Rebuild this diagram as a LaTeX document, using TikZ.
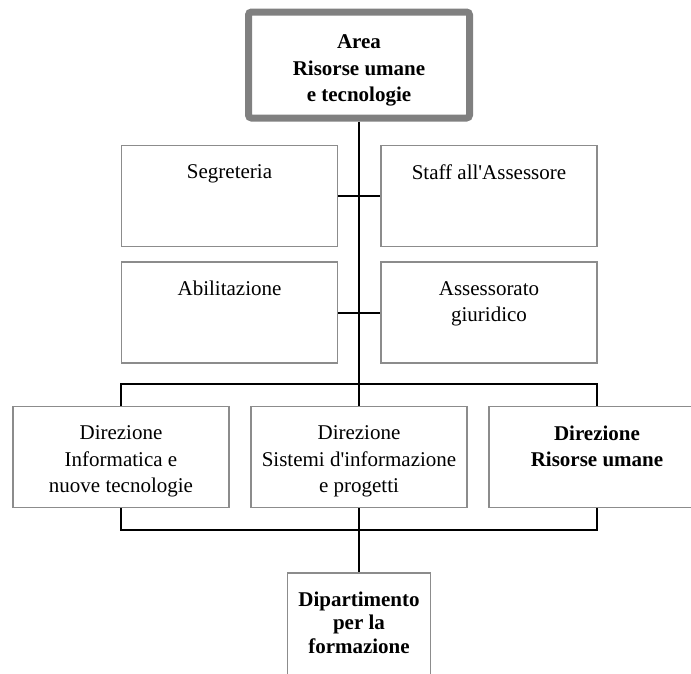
\documentclass[tikz,border=0pt]{standalone}
\usepackage{fontspec}
\setmainfont{Liberation Serif}[Ligatures=TeXOff]
\usetikzlibrary{positioning}

\definecolor{framegray}{HTML}{808080}
\definecolor{boxgray}{HTML}{8C8C8C}

\begin{document}
\begin{tikzpicture}[
	x=1pt, y=-1pt,
	 line/.style = {draw, line width=2pt},
	 base/.style = {draw=boxgray, line width=1.4pt, inner sep=0pt,
									minimum width=216pt, minimum height=101pt},
	 unit/.style = {base, label={[anchor=north, yshift=-16.5pt, align=center,
									font=\fontsize{21}{26.5}\selectfont]north:#1}},
 unitbold/.style = {base, label={[anchor=north, yshift=-16.5pt, align=center,
									font=\fontsize{21}{26.5}\selectfont\bfseries]north:#1}},
	 head/.style = {draw=framegray, line width=7pt, rounded corners=3pt, inner sep=0pt,
									minimum width=221pt, minimum height=106pt,
									label={[anchor=north, yshift=-23pt, align=center,
									font=\fontsize{21}{26.5}\selectfont\bfseries]north:#1}},
	 dept/.style = {base, minimum width=143pt, minimum height=110pt,
									label={[anchor=north, yshift=-16pt, align=center,
									font=\fontsize{21}{23.5}\selectfont\bfseries]north:#1}}
]
\useasboundingbox (0,0) rectangle (691,673);
\clip (0,0) rectangle (691,673);
% head of the area
\node [head={Area\\Risorse umane\\e tecnologie}] (area) at (359,65) {};
% staff units
\node [unit={Segreteria}]             (segr) at (229.5,196) {};
\node [unit={Staff all'Assessore}]    (staff) at (489,196) {};
\node [unit={Abilitazione}]           (abil) at (229.5,312.5) {};
\node [unit={Assessorato\\giuridico}] (giur) at (489,312.5) {};
% directions
\node [unit={Direzione\\Informatica e\\nuove tecnologie}]      (dinf) at (121,457) {};
\node [unit={Direzione\\Sistemi d'informazione\\e progetti}]   (dsis) at (359,457) {};
\node [unitbold={Direzione\\Risorse umane}]                    (drum) at (597,457) {};
% department
\node [dept={Dipartimento\\per la\\formazione}] (dform) at (359,628) {};
%%
\draw [line]
	(area) -- (dsis)
	(segr) -- (staff)
	(abil) -- (giur)
	(dinf.north) -- ++(0,-22) -| (drum.north)
	(dinf.south) -- ++(0,22) -| (drum.south)
	(dsis) -- (dform)
	;
\end{tikzpicture}
\end{document}
